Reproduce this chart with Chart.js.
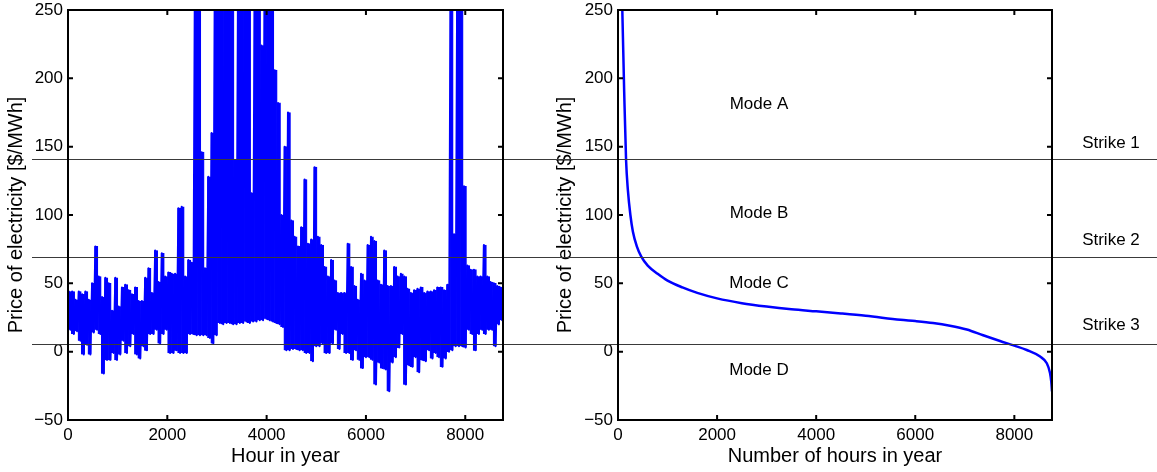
<!DOCTYPE html>
<html><head><meta charset="utf-8">
<script src="https://cdn.jsdelivr.net/npm/chart.js@4.4.1/dist/chart.umd.min.js"></script>
<style>
html,body{margin:0;padding:0;background:#fff;width:1157px;height:472px;overflow:hidden}
#c1{position:absolute;left:0;top:0}
#c2{position:absolute;left:549px;top:0}
</style></head><body>
<canvas id="c1" width="549" height="472"></canvas>
<canvas id="c2" width="608" height="472"></canvas>
<script>
// ---------------- DATA ----------------
// Left panel: hourly price, read as high / low envelope per bin (131 bins over 8760 h)
const binHigh = [
 44,44,38,44,42,44,38,50,77,55,
 40,54,50,30,54,33,47,49,45,42,
 47,37,37,54,61,43,74,51,72,55,
 58,57,57,105,106,55,67,65,300,300,
 146,61,128,160,300,300,300,300,300,300,
 140,300,300,300,300,116,300,300,224,300,
 300,300,206,182,100,150,175,96,84,77,
 91,126,79,82,135,84,78,62,55,67,
 52,43,43,43,79,62,48,38,57,52,
 78,84,81,52,49,74,48,48,62,55,
 57,55,46,43,45,46,47,43,44,44,
 45,47,47,45,49,300,86,300,300,121,
 63,60,60,55,55,78,55,51,50,48,
 47];
const binLow = [
 16,13,15,8,-2,5,-2,14,16,13,
 -16,-6,-6,-1,-6,-2,8,-1,4,13,
 -2,-5,4,1,13,13,16,6,13,16,
 -1,-1,1,-1,-1,-1,13,13,12,12,
 12,12,10,6,12,21,20,21,21,20,
 20,21,21,22,21,22,22,23,23,24,
 23,22,21,20,18,1,1,2,2,1,
 1,-1,-1,-7,4,4,6,-1,-1,6,
 16,2,13,-1,-1,-6,1,-6,-12,-4,
 -4,-6,-24,-8,-12,-13,-29,-8,-4,3,
 13,-24,-10,-11,-4,-15,-6,-7,1,-5,
 -1,-4,-11,-5,0,1,4,4,4,3,
 16,13,1,13,16,13,16,16,4,20,
 23];
const hoursInYear = 8760;

// Right panel: price duration curve
const durHours = [0,50,87,125,163,200,250,300,380,470,600,800,1000,1300,1600,2000,2500,3000,3500,4000,4500,5000,5700,6000,6360,6700,7040,7370,7710,8000,8250,8520,8655,8720,8745,8760];
const durPrice = [400,300,250,190,140,118,100,88,77,69.5,63,57,52,47,43,39,35.5,33,31,29.5,28,26.3,23.3,22.4,21,19,16.2,12,7.8,4.4,1.2,-3.6,-8.5,-15.6,-22,-29];

// Strike levels and labels
const strikeValues = [141, 69.5, 5.4];
const strikeNames = ['Strike 1','Strike 2','Strike 3'];
const modeNames = ['Mode A','Mode B','Mode C','Mode D'];

// tick values
const xTickValues = [0, 2000, 4000, 6000, 8000];
const yTickValues = [-50, 0, 50, 100, 150, 200, 250];

// annotation anchors (data coordinates of the right panel)
const annot = {
  modeX: 2846, modeY: [181, 101.5, 50.3, -13.4],
  strikeLabelX: 9950, strikeLabelY: [152.7, 81.7, 19.5]
};

// ---------------- BUILD ----------------
const FONT = "'Liberation Sans', Arial, Helvetica, sans-serif";
Chart.defaults.font.family = FONT;
Chart.defaults.color = '#000';

const nBins = binHigh.length;
const binW = hoursInYear / nBins;
const zigPts = [], barPts = [];
for (let k = 0; k < nBins; k++) {
  zigPts.push({x: (k + 0.25) * binW, y: binHigh[k]});
  zigPts.push({x: (k + 0.75) * binW, y: binLow[k]});
  barPts.push({x: (k + 0.5) * binW, y: [binLow[k], binHigh[k]]});
}
const durPts = durHours.map((h, i) => ({x: h, y: durPrice[i]}));

const fmt = v => String(v).replace('-', '\u2212');

function yAxis(width) {
  return {
    type: 'linear', min: yTickValues[0], max: yTickValues[yTickValues.length - 1],
    afterBuildTicks(s) { s.ticks = yTickValues.map(v => ({value: v})); },
    ticks: {font: {size: 17}, color: '#000', padding: 5, callback: fmt},
    grid: {display: false, drawTicks: false}, border: {display: false},
    title: {display: true, text: 'Price of electricity [$/MWh]', font: {size: 20}, color: '#000', padding: {top: 4, bottom: 0}},
    afterFit(s) { s.width = width; s.paddingTop = 0; s.paddingBottom = 0; }
  };
}
function xAxis(title) {
  return {
    type: 'linear', min: 0, max: hoursInYear, offset: false,
    afterBuildTicks(s) { s.ticks = xTickValues.map(v => ({value: v})); },
    ticks: {font: {size: 17}, color: '#000', padding: 5, maxRotation: 0, autoSkip: false, callback: fmt},
    grid: {display: false, drawTicks: false}, border: {display: false},
    title: {display: true, text: title, font: {size: 20}, color: '#000', padding: {top: 0, bottom: 4}},
    afterFit(s) { s.height = 52; s.paddingLeft = 0; s.paddingRight = 0; }
  };
}

const framePlugin = {
  id: 'frame',
  afterDatasetsDraw(chart, args, opts) {
    const {ctx, chartArea: a, scales: {x, y}} = chart;
    ctx.save();
    ctx.strokeStyle = '#3a3a3a'; ctx.lineWidth = 1.2;
    strikeValues.forEach(v => {
      const py = Math.round(y.getPixelForValue(v)) + 0.5;
      ctx.beginPath(); ctx.moveTo(opts.lineFrom, py); ctx.lineTo(chart.width, py); ctx.stroke();
    });
    ctx.strokeStyle = '#000'; ctx.lineWidth = 2;
    ctx.strokeRect(a.left, a.top, a.right - a.left, a.bottom - a.top);
    const L = 5;
    ctx.beginPath();
    x.ticks.forEach(t => { const px = x.getPixelForValue(t.value);
      ctx.moveTo(px, a.bottom); ctx.lineTo(px, a.bottom - L); ctx.moveTo(px, a.top); ctx.lineTo(px, a.top + L); });
    y.ticks.forEach(t => { const py = y.getPixelForValue(t.value);
      ctx.moveTo(a.left, py); ctx.lineTo(a.left + L, py); ctx.moveTo(a.right, py); ctx.lineTo(a.right - L, py); });
    ctx.stroke();
    if (opts.labels) {
      ctx.fillStyle = '#000';
      ctx.font = '17px ' + FONT;
      ctx.textAlign = 'center'; ctx.textBaseline = 'middle';
      modeNames.forEach((m, i) => ctx.fillText(m, x.getPixelForValue(annot.modeX), y.getPixelForValue(annot.modeY[i])));
      strikeNames.forEach((s, i) => ctx.fillText(s, x.getPixelForValue(annot.strikeLabelX), y.getPixelForValue(annot.strikeLabelY[i])));
    }
    ctx.restore();
  }
};

function makeChart(id, datasets, xTitle, yWidth, padRight, lineFrom, labels) {
  return new Chart(document.getElementById(id), {
    type: 'line',
    data: {datasets},
    options: {
      responsive: false, animation: false, events: [],
      layout: {padding: {left: 0, right: padRight, top: 10, bottom: 0}},
      plugins: {legend: {display: false}, tooltip: {enabled: false}, frame: {lineFrom, labels}},
      scales: {x: xAxis(xTitle), y: yAxis(yWidth)}
    },
    plugins: [framePlugin]
  });
}

const BLUE = '#0000ff';
makeChart('c1', [
  {type: 'bar', data: barPts, backgroundColor: BLUE, borderColor: BLUE, borderWidth: 0.6,
   barPercentage: 1, categoryPercentage: 1, grouped: false, order: 2},
  {type: 'line', data: zigPts, borderColor: BLUE, borderWidth: 2, pointRadius: 0, fill: false,
   tension: 0, borderJoinStyle: 'round', borderCapStyle: 'round', order: 1}
], 'Hour in year', 68, 46, 32, false);
makeChart('c2', [
  {type: 'line', data: durPts, borderColor: BLUE, borderWidth: 2.5, pointRadius: 0, fill: false,
   cubicInterpolationMode: 'monotone', borderJoinStyle: 'round'}
], 'Number of hours in year', 69, 105, 0, true);
</script>
</body></html>
